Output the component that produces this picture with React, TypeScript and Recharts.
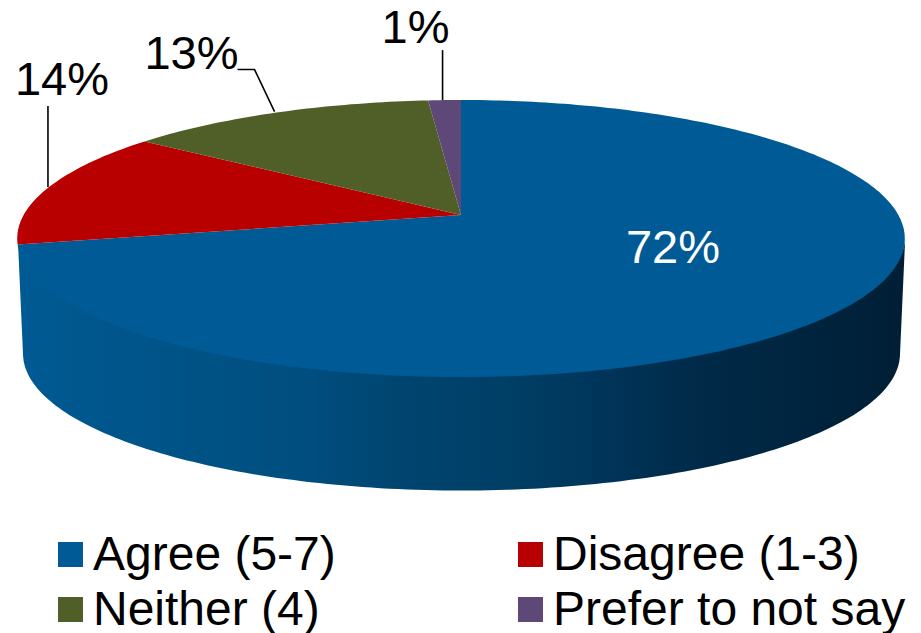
import { PieChart, Pie, Legend } from 'recharts'

const CATEGORIES = ['Agree (5-7)', 'Disagree (1-3)', 'Neither (4)', 'Prefer to not say']
const SHARES = [71.6, 13.7, 13.3, 1.4]
const COLORS = ['#005a96', '#b90000', '#4f5f27', '#5e4877']

const chartData = CATEGORIES.map((name, i) => ({ name, value: SHARES[i], fill: COLORS[i] }))

const FONT = "'Liberation Sans', Arial, sans-serif"

// the pie is seen in perspective: the apex is not the centre of the ellipse
const PERSP = -0.17
const X_SCALE = 0.985
const Y_SCALE = 0.303
const WALL_DEPTH = 115.4
const WALL_SHRINK = 0.988
const WALL_FROM = 100
const WALL_TO = 260

function project(cx: number, cy: number, r: number, clockwise: number) {
  const t = (clockwise * Math.PI) / 180
  const u = Math.sin(t)
  const v = -Math.cos(t)
  const w = 1 + PERSP * v
  return { x: cx + (r * X_SCALE * u) / w, y: cy + (r * Y_SCALE * v) / w }
}

function arcPoints(cx: number, cy: number, r: number, from: number, to: number) {
  const steps = Math.max(2, Math.ceil(Math.abs(to - from)))
  const pts = []
  for (let i = 0; i <= steps; i++) {
    pts.push(project(cx, cy, r, from + ((to - from) * i) / steps))
  }
  return pts
}

const toPath = (pts: { x: number; y: number }[]) =>
  pts.map((p, i) => `${i ? 'L' : 'M'}${p.x.toFixed(1)} ${p.y.toFixed(1)}`).join(' ') + ' Z'

// Pie sector drawn as a slab: wall underneath, flat top face above
function SlabSector(props: any) {
  const { cx, cy, outerRadius, startAngle, endAngle, fill, index } = props
  const from = 90 - startAngle
  const to = 90 - endAngle
  let wall = null
  // only the first slice reaches the front, its wall runs edge to edge
  if (index === 0) {
    const upper = arcPoints(cx + 0.5, cy - 3, outerRadius, WALL_FROM, WALL_TO)
    const lower = arcPoints(cx + 0.5, cy + WALL_DEPTH, outerRadius * WALL_SHRINK, WALL_FROM, WALL_TO).reverse()
    wall = <path d={toPath([...upper, ...lower])} fill="url(#pieWall)" />
  }
  const top = [{ x: cx, y: cy }, ...arcPoints(cx, cy, outerRadius, from, to)]
  return (
    <g>
      {wall}
      <path d={toPath(top)} fill={fill} />
    </g>
  )
}

// text offset from the rim point, and the leader's points (also from the rim point)
const LABEL_PLACES = [
  { dx: 0, dy: 0, leader: [] },
  { dx: 13, dy: -92, leader: [[-1, 0], [-1, -81]] },
  { dx: -85, dy: -44, leader: [[-2, -1], [-22, -43], [-39, -43]] },
  { dx: -29, dy: -57, leader: [[-2, 0], [-2, -50]] },
]

function PieLabel(props: any) {
  const { cx, cy, outerRadius, midAngle, index, percent } = props
  const text = `${Math.round(percent * 100)}%`
  if (index === 0) {
    return (
      <text x={cx + 212} y={cy + 48} fill="#fff" fontFamily={FONT} fontSize={47} textAnchor="middle">
        {text}
      </text>
    )
  }
  const rim = project(cx, cy, outerRadius, 90 - midAngle)
  const place = LABEL_PLACES[index]
  const line = place.leader
    .map(([dx, dy], i) => `${i ? 'L' : 'M'}${rim.x + dx} ${rim.y + dy}`)
    .join(' ')
  return (
    <g>
      <path d={line} fill="none" stroke="#000" strokeWidth={1.6} />
      <text x={rim.x + place.dx} y={rim.y + place.dy} fill="#000" fontFamily={FONT} fontSize={47} textAnchor="middle">
        {text}
      </text>
    </g>
  )
}

function PieLegend() {
  return (
    <div style={{
      display: 'grid', gridTemplateColumns: '460px 1fr', gridAutoRows: 55,
      fontFamily: FONT, fontSize: 48, color: '#000', whiteSpace: 'nowrap',
    }}>
      {CATEGORIES.map((name, i) => (
        <div key={name} style={{ display: 'flex', alignItems: 'center', gap: 10, height: 55 }}>
          <span style={{ width: 25, height: 25, background: COLORS[i], flexShrink: 0 }} />
          <span style={{ lineHeight: '48px', position: 'relative', top: -1 }}>{name}</span>
        </div>
      ))}
    </div>
  )
}

export default function App() {
  return (
    <div style={{ position: 'absolute', left: 0, top: 0, width: 921, height: 633, background: '#fff', overflow: 'hidden' }}>
      <PieChart width={921} height={633} margin={{ top: 0, right: 0, bottom: 0, left: 0 }}>
        <defs>
          <linearGradient id="pieWall" gradientUnits="userSpaceOnUse" x1="20" y1="0" x2="900" y2="0">
            <stop offset="0" stopColor="#005a93" />
            <stop offset="0.2" stopColor="#005285" />
            <stop offset="0.32" stopColor="#004e80" />
            <stop offset="0.43" stopColor="#004570" />
            <stop offset="0.55" stopColor="#003f66" />
            <stop offset="0.66" stopColor="#00355a" />
            <stop offset="0.77" stopColor="#002a48" />
            <stop offset="1" stopColor="#001f36" />
          </linearGradient>
        </defs>
        <Pie
          data={chartData}
          dataKey="value"
          nameKey="name"
          cx={461}
          cy={215}
          outerRadius={444}
          startAngle={90}
          endAngle={-270}
          stroke="none"
          shape={SlabSector}
          label={PieLabel}
          labelLine={false}
          isAnimationActive={false}
        />
        <Legend
          content={<PieLegend />}
          layout="vertical"
          wrapperStyle={{ position: 'absolute', left: 58, top: 527, width: 863 }}
        />
      </PieChart>
    </div>
  )
}
